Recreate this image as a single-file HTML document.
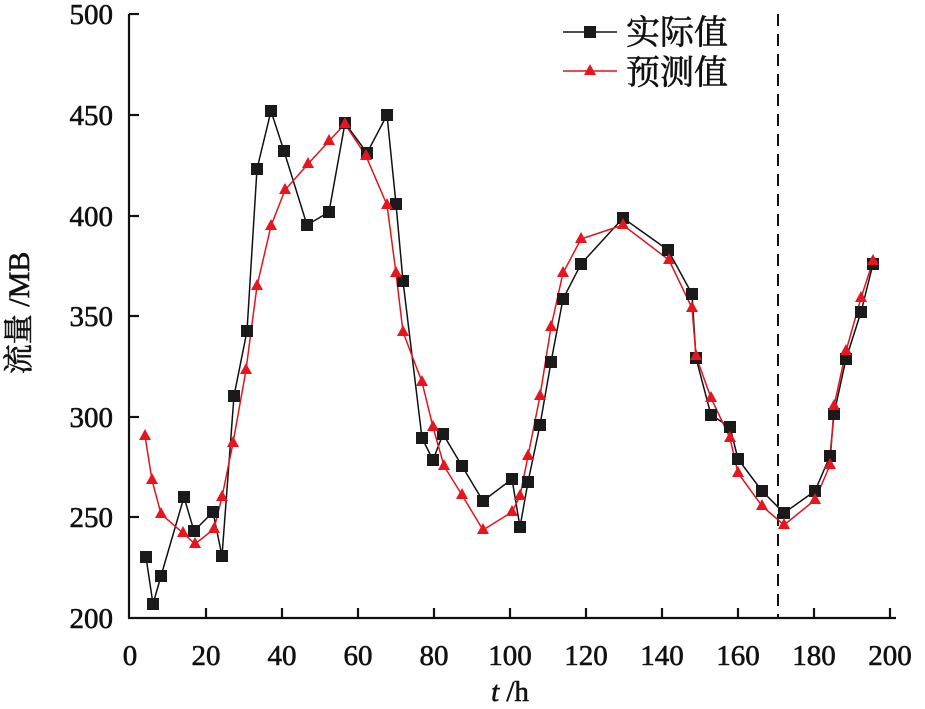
<!DOCTYPE html>
<html><head><meta charset="utf-8"><style>
html,body{margin:0;padding:0;background:#fff;}
svg{display:block;}
text{font-family:"Liberation Serif","Noto Serif CJK SC",serif;fill:#111;stroke:#111;stroke-width:0.6;}
</style></head><body>
<svg width="925" height="709" viewBox="0 0 925 709" xmlns="http://www.w3.org/2000/svg">
<g stroke="#111" stroke-width="2.2" fill="none">
<line x1="129" y1="14" x2="129" y2="619"/>
<line x1="128" y1="618" x2="896" y2="618"/>
<line x1="129" y1="14" x2="139" y2="14"/>
<line x1="129" y1="115" x2="139" y2="115"/>
<line x1="129" y1="216" x2="139" y2="216"/>
<line x1="129" y1="316" x2="139" y2="316"/>
<line x1="129" y1="417" x2="139" y2="417"/>
<line x1="129" y1="517" x2="139" y2="517"/>
<line x1="206" y1="618" x2="206" y2="608"/>
<line x1="282" y1="618" x2="282" y2="608"/>
<line x1="358" y1="618" x2="358" y2="608"/>
<line x1="434" y1="618" x2="434" y2="608"/>
<line x1="510" y1="618" x2="510" y2="608"/>
<line x1="586" y1="618" x2="586" y2="608"/>
<line x1="662" y1="618" x2="662" y2="608"/>
<line x1="738" y1="618" x2="738" y2="608"/>
<line x1="814" y1="618" x2="814" y2="608"/>
<line x1="890" y1="618" x2="890" y2="608"/>
</g>
<line x1="778" y1="14" x2="778" y2="618" stroke="#111" stroke-width="2" stroke-dasharray="12,8"/>
<g font-size="29" text-anchor="end">
<text x="113" y="24">500</text><text x="113" y="125">450</text><text x="113" y="226">400</text>
<text x="113" y="326">350</text><text x="113" y="427">300</text><text x="113" y="527">250</text>
<text x="113" y="628">200</text>
</g>
<g font-size="29" text-anchor="middle">
<text x="130" y="665">0</text><text x="206" y="665">20</text><text x="282" y="665">40</text>
<text x="358" y="665">60</text><text x="434" y="665">80</text><text x="510" y="665">100</text>
<text x="586" y="665">120</text><text x="662" y="665">140</text><text x="738" y="665">160</text>
<text x="814" y="665">180</text><text x="890" y="665">200</text>
</g>
<text x="510" y="701" font-size="29" text-anchor="middle"><tspan font-style="italic">t</tspan> /h</text>
<text transform="translate(29,313) rotate(-90)" font-size="30" text-anchor="middle">流量 /MB</text>

<polyline fill="none" stroke="#111" stroke-width="1.5" points="146,557 153,604 161,576 184,497 194,531 213,512 222,556 234,396 247,331 257,169 271,111 284,151 307,225 329,212 345,123 367,153 387,115 396,204 403,281 422,438 433,460 443,434 462,466 483,501 512,479 520,527 528,482 540,425 551,362 563,299 581,264 623,218 668,250 692,294 696,358 711,415 730,427 738,459 762,491 784,513 815,491 830,456 834,414 846,359 861,312 873,264"/>
<polyline fill="none" stroke="#e0141e" stroke-width="1.5" points="145,436 152,480 161,514 183,533 195,544 214,529 222,497 233,443 246,370 257,286 271,226 285,190 308,164 329,141 345,124 366,156 387,205 396,273 403,332 422,382 433,427 444,466 462,495 483,530 512,512 520,496 528,456 540,396 551,327 563,273 581,239 623,225 669,260 692,308 696,356 711,398 730,438 738,473 762,506 784,525 815,500 830,465 834,406 846,351 861,298 873,261"/>
<g fill="#1a1a1a">
<rect x="140" y="551" width="12" height="12"/><rect x="147" y="598" width="12" height="12"/><rect x="155" y="570" width="12" height="12"/><rect x="178" y="491" width="12" height="12"/><rect x="188" y="525" width="12" height="12"/><rect x="207" y="506" width="12" height="12"/><rect x="216" y="550" width="12" height="12"/><rect x="228" y="390" width="12" height="12"/><rect x="241" y="325" width="12" height="12"/><rect x="251" y="163" width="12" height="12"/><rect x="265" y="105" width="12" height="12"/><rect x="278" y="145" width="12" height="12"/><rect x="301" y="219" width="12" height="12"/><rect x="323" y="206" width="12" height="12"/><rect x="339" y="117" width="12" height="12"/><rect x="361" y="147" width="12" height="12"/><rect x="381" y="109" width="12" height="12"/><rect x="390" y="198" width="12" height="12"/><rect x="397" y="275" width="12" height="12"/><rect x="416" y="432" width="12" height="12"/><rect x="427" y="454" width="12" height="12"/><rect x="437" y="428" width="12" height="12"/><rect x="456" y="460" width="12" height="12"/><rect x="477" y="495" width="12" height="12"/><rect x="506" y="473" width="12" height="12"/><rect x="514" y="521" width="12" height="12"/><rect x="522" y="476" width="12" height="12"/><rect x="534" y="419" width="12" height="12"/><rect x="545" y="356" width="12" height="12"/><rect x="557" y="293" width="12" height="12"/><rect x="575" y="258" width="12" height="12"/><rect x="617" y="212" width="12" height="12"/><rect x="662" y="244" width="12" height="12"/><rect x="686" y="288" width="12" height="12"/><rect x="690" y="352" width="12" height="12"/><rect x="705" y="409" width="12" height="12"/><rect x="724" y="421" width="12" height="12"/><rect x="732" y="453" width="12" height="12"/><rect x="756" y="485" width="12" height="12"/><rect x="778" y="507" width="12" height="12"/><rect x="809" y="485" width="12" height="12"/><rect x="824" y="450" width="12" height="12"/><rect x="828" y="408" width="12" height="12"/><rect x="840" y="353" width="12" height="12"/><rect x="855" y="306" width="12" height="12"/><rect x="867" y="258" width="12" height="12"/>
</g>
<g fill="#e8141e">
<path d="M145,429l6,11h-12z M152,473l6,11h-12z M161,507l6,11h-12z M183,526l6,11h-12z M195,537l6,11h-12z M214,522l6,11h-12z M222,490l6,11h-12z M233,436l6,11h-12z M246,363l6,11h-12z M257,279l6,11h-12z M271,219l6,11h-12z M285,183l6,11h-12z M308,157l6,11h-12z M329,134l6,11h-12z M345,117l6,11h-12z M366,149l6,11h-12z M387,198l6,11h-12z M396,266l6,11h-12z M403,325l6,11h-12z M422,375l6,11h-12z M433,420l6,11h-12z M444,459l6,11h-12z M462,488l6,11h-12z M483,523l6,11h-12z M512,505l6,11h-12z M520,489l6,11h-12z M528,449l6,11h-12z M540,389l6,11h-12z M551,320l6,11h-12z M563,266l6,11h-12z M581,232l6,11h-12z M623,218l6,11h-12z M669,253l6,11h-12z M692,301l6,11h-12z M696,349l6,11h-12z M711,391l6,11h-12z M730,431l6,11h-12z M738,466l6,11h-12z M762,499l6,11h-12z M784,518l6,11h-12z M815,493l6,11h-12z M830,458l6,11h-12z M834,399l6,11h-12z M846,344l6,11h-12z M861,291l6,11h-12z M873,254l6,11h-12z"/>
</g>
<line x1="563" y1="32" x2="617" y2="32" stroke="#111" stroke-width="1.5"/>
<rect x="584" y="26" width="12" height="12" fill="#1a1a1a"/>
<line x1="563" y1="71" x2="617" y2="71" stroke="#e0141e" stroke-width="1.5"/>
<path d="M590,64l6,11h-12z" fill="#e8141e"/>
<text x="626" y="44" font-size="34">实际值</text>
<text x="626" y="84" font-size="34">预测值</text>
</svg>
</body></html>
